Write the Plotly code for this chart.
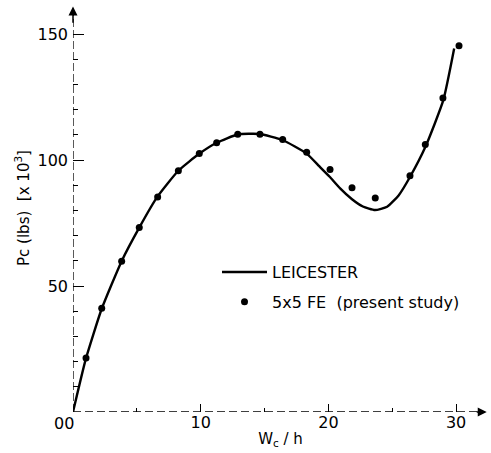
import plotly.graph_objects as go

# LEICESTER curve
curve_x = [0, 1.0, 2.25, 3.8, 5.2, 6.6, 8.25, 9.9, 11.25, 12.9, 14.6, 16.4, 18.3,
           19.3, 20.1, 20.9, 21.85, 22.7, 23.65, 24.6, 25.5, 26.4, 27.6, 29.0, 29.85]
curve_y = [0, 21, 41, 59.8, 73.3, 85.4, 95.8, 102.6, 106.9, 110.2, 110.4, 108, 102.6,
           97.5, 93.4, 88.9, 84.5, 81.6, 80.2, 81.5, 86, 93.4, 105.3, 123.8, 144.3]

# 5x5 FE (present study) points
fe_x = [1.02, 2.25, 3.81, 5.19, 6.63, 8.25, 9.89, 11.25, 12.9, 14.64, 16.42, 18.3,
        20.13, 21.85, 23.67, 26.39, 27.59, 28.97, 30.23]
fe_y = [21.4, 41.2, 59.9, 73.3, 85.4, 95.8, 102.6, 106.9, 110.3, 110.3, 108.2, 103.1,
        96.3, 89.0, 85.0, 93.8, 106.2, 124.7, 145.4]

x_tickvals = [10, 20, 30]
x_ticktext = ["10", "20", "30"]
y_tickvals = [50, 100, 150]
y_ticktext = ["50", "100", "150"]

FONT = "DejaVu Sans"

fig = go.Figure()
fig.add_trace(go.Scatter(x=curve_x, y=curve_y, mode="lines", name="LEICESTER",
                         line=dict(color="black", width=2.4, shape="spline", smoothing=0.5),
                         legendgroup="a"))
fig.add_trace(go.Scatter(x=fe_x, y=fe_y, mode="markers", name="5x5 FE  (present study)",
                         marker=dict(color="black", size=7), legendgroup="b"))

fig.update_layout(
    width=491, height=453,
    margin=dict(l=73, r=3, t=4, b=41, autoexpand=False),
    paper_bgcolor="white", plot_bgcolor="white",
    font=dict(family=FONT, color="black", size=14),
    showlegend=True,
    legend=dict(x=0.347, y=0.306, xanchor="left", yanchor="middle",
                bgcolor="rgba(0,0,0,0)", borderwidth=0, tracegroupgap=6,
                itemwidth=45, font=dict(size=16, family=FONT)),
    xaxis=dict(range=[0, 32.5], showgrid=False, zeroline=False, showline=False,
               automargin=False,
               tickmode="array", tickvals=x_tickvals, ticktext=x_ticktext,
               ticks="inside", ticklen=8, tickcolor="black", tickwidth=1,
               tickfont=dict(size=16), ticklabelstandoff=-1,
               minor=dict(tickvals=[5, 15, 25], ticks="inside", ticklen=4,
                          tickcolor="black", showgrid=False),
               title=dict(text="W<sub>c</sub> / h", font=dict(size=15), standoff=2)),
    yaxis=dict(range=[0, 162], showgrid=False, zeroline=False, showline=False,
               automargin=False,
               tickmode="array", tickvals=y_tickvals, ticktext=y_ticktext,
               ticks="inside", ticklen=11, tickcolor="black", tickwidth=1,
               tickfont=dict(size=16), ticklabelstandoff=4,
               minor=dict(tickvals=[10, 20, 30, 40, 60, 70, 80, 90, 110, 120, 130, 140],
                          ticks="inside", ticklen=5, tickcolor="black", showgrid=False),
               title=dict(text="Pc (lbs)  [x 10<sup>3</sup>]", font=dict(size=15), standoff=4)),
)

# axes (dashed, like the scanned original) with arrowheads
fig.add_shape(type="line", x0=0, y0=0, x1=0, y1=158, xref="x", yref="y",
              line=dict(color="black", width=1.3, dash="8px,3px"))
fig.add_shape(type="line", x0=0, y0=0, x1=31.8, y1=0, xref="x", yref="y",
              line=dict(color="black", width=1.3, dash="8px,4px"))
fig.add_annotation(x=0, y=161, ax=0, ay=154, xref="x", yref="y", axref="x", ayref="y",
                   text="", showarrow=True, arrowhead=2, arrowsize=1.2, arrowwidth=1.5,
                   arrowcolor="black")
fig.add_annotation(x=32.4, y=0, ax=31.5, ay=0, xref="x", yref="y", axref="x", ayref="y",
                   text="", showarrow=True, arrowhead=2, arrowsize=1.2, arrowwidth=1.5,
                   arrowcolor="black")
fig.add_annotation(x=0, y=0, xref="x", yref="y", text="00", showarrow=False,
                   xshift=-9, yshift=-11, font=dict(size=16, family=FONT))

fig.write_html("out.html", config={"displayModeBar": False},
               post_script="document.body.style.margin='0';")
